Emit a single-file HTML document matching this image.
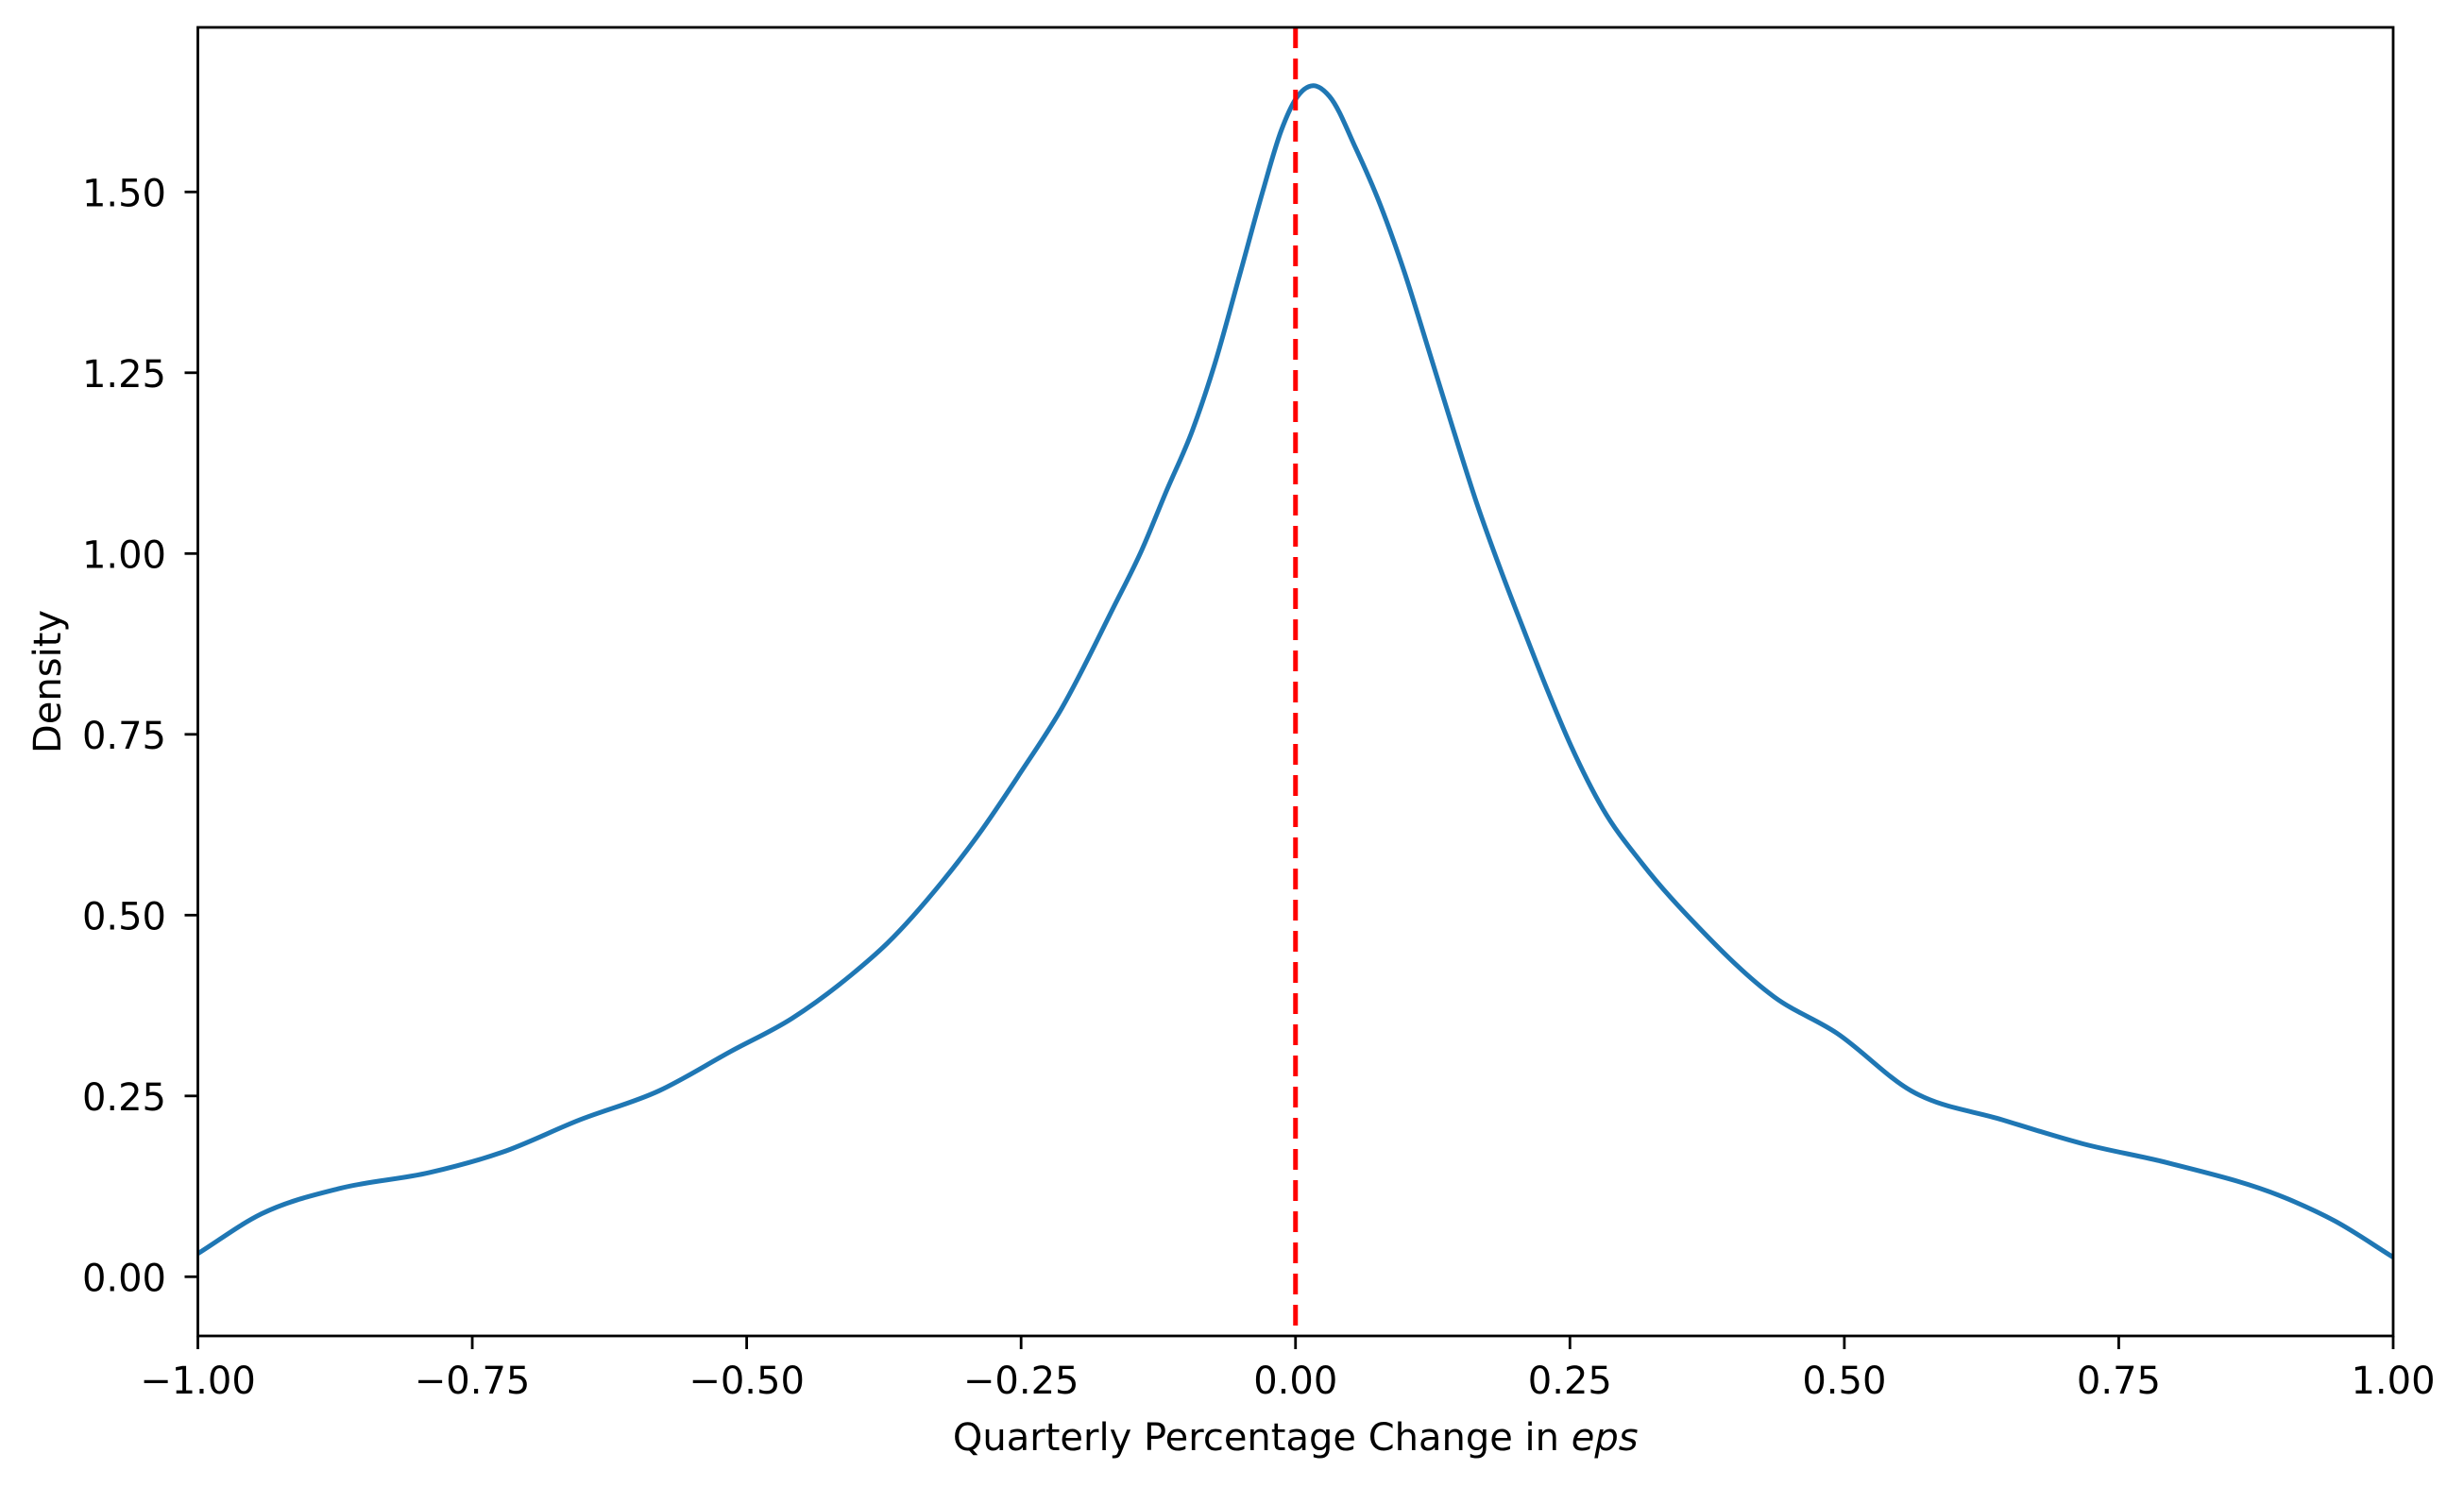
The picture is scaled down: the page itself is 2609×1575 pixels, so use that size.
<!DOCTYPE html>
<html><head><meta charset="utf-8"><style>
html,body{margin:0;padding:0;background:#fff;}
svg{display:block;font-family:"DejaVu Sans","Liberation Sans",sans-serif;}
</style></head><body>
<svg id="chart" width="2609" height="1575" viewBox="0 0 2609 1575" xmlns="http://www.w3.org/2000/svg">
<rect width="2609" height="1575" fill="#fff"/>
<g id="plot"></g>
</svg>
<script>
const xs = [-1.00,-0.942,-0.871,-0.789,-0.723,-0.652,-0.580,-0.514,-0.459,-0.405,-0.372,-0.322,-0.289,-0.251,-0.213,-0.166,-0.140,-0.118,-0.094,-0.074,-0.050,-0.030,-0.013,0.00,0.016,0.031,0.055,0.077,0.099,0.121,0.143,0.165,0.187,0.207,0.229,0.251,0.280,0.316,0.368,0.436,0.493,0.561,0.644,0.717,0.796,0.905,0.947,1.00];
const density = [0.032,0.087,0.122,0.144,0.172,0.217,0.257,0.312,0.357,0.417,0.461,0.546,0.611,0.696,0.786,0.925,1.005,1.085,1.17,1.26,1.39,1.50,1.585,1.628,1.647,1.632,1.56,1.483,1.39,1.283,1.175,1.07,0.977,0.898,0.813,0.734,0.647,0.571,0.482,0.387,0.337,0.257,0.217,0.184,0.157,0.107,0.077,0.027];
const xTicks = [-1.00,-0.75,-0.50,-0.25,0.00,0.25,0.50,0.75,1.00];
const yTicks = [0.00,0.25,0.50,0.75,1.00,1.25,1.50];
const refLine = [0.0];

const L=209.5,R=2534,T=29,B=1415;
const xMin=-1,xMax=1;
const y0px=1352.3, perUnit=766;
const X=v=>L+(v-xMin)/(xMax-xMin)*(R-L);
const Y=v=>y0px-v*perUnit;
const NS="http://www.w3.org/2000/svg";
const g=document.getElementById('plot');
function mk(tag,attrs,parent){const e=document.createElementNS(NS,tag);for(const k in attrs)e.setAttribute(k,attrs[k]);(parent||g).appendChild(e);return e;}
const fmt=v=>(v<0?'\u2212':'')+Math.abs(v).toFixed(2);

// monotone cubic (Fritsch-Carlson style tangents on non-uniform x)
const pts=xs.map((x,i)=>[X(x),Y(density[i])]);
const n=pts.length, m=[];
const sl=[];for(let i=0;i<n-1;i++)sl.push((pts[i+1][1]-pts[i][1])/(pts[i+1][0]-pts[i][0]));
for(let i=0;i<n;i++){
  if(i===0)m.push(sl[0]);else if(i===n-1)m.push(sl[n-2]);
  else{const h0=pts[i][0]-pts[i-1][0],h1=pts[i+1][0]-pts[i][0];m.push((sl[i-1]*h1+sl[i]*h0)/(h0+h1));}
}
let d=`M${pts[0][0]},${pts[0][1]}`;
for(let i=0;i<n-1;i++){
  const h=(pts[i+1][0]-pts[i][0])/3;
  d+=`C${pts[i][0]+h},${pts[i][1]+m[i]*h} ${pts[i+1][0]-h},${pts[i+1][1]-m[i+1]*h} ${pts[i+1][0]},${pts[i+1][1]}`;
}
const clip=mk('clipPath',{id:'cp'});mk('rect',{x:L,y:T,width:R-L,height:B-T},clip);
const curve=mk('path',{d:d,fill:'none',stroke:'#1f77b4','stroke-width':5,'clip-path':'url(#cp)'});



refLine.forEach(v=>{
  const ln=mk('line',{x1:X(v),x2:X(v),y1:T,y2:B,stroke:'#ff0000','stroke-width':5,'stroke-dasharray':'22 11'});
  
  
});

const fr=mk('rect',{x:L,y:T,width:R-L,height:B-T,fill:'none',stroke:'#000','stroke-width':2.8});



xTicks.forEach(v=>{
  mk('line',{x1:X(v),x2:X(v),y1:B,y2:B+14,stroke:'#000','stroke-width':2.8});
  const t=mk('text',{x:X(v),y:B+61,'text-anchor':'middle','font-size':40,fill:'#000'});
  t.textContent=fmt(v);
  
  
});
yTicks.forEach(v=>{
  mk('line',{x1:L-14,x2:L,y1:Y(v),y2:Y(v),stroke:'#000','stroke-width':2.8});
  const t=mk('text',{x:176,y:Y(v)+15,'text-anchor':'end','font-size':40,fill:'#000'});
  t.textContent=fmt(v);
  
  
});
const xl=mk('text',{x:(L+R)/2,y:1536,'text-anchor':'middle','font-size':40,fill:'#000'});
xl.innerHTML='Quarterly Percentage Change in <tspan font-style="italic">eps</tspan>';


const yl=mk('text',{x:0,y:0,'text-anchor':'middle','font-size':40,fill:'#000',transform:`translate(64,${(T+B)/2}) rotate(-90)`});
yl.textContent='Density';


</script>
</body></html>
